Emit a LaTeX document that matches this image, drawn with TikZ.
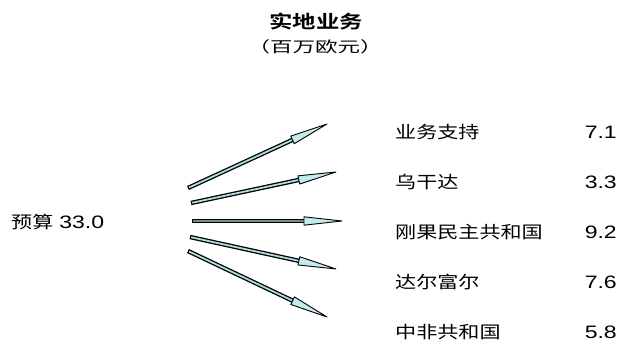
\documentclass[tikz,border=0pt]{standalone}
\usepackage{fontspec}
\setmainfont{Liberation Sans}[FakeStretch=1.28]
\newfontfamily\cjk{Noto Sans CJK SC}[FakeStretch=1.24]
\newfontfamily\cjkwide{Noto Sans CJK SC}[FakeStretch=1.5]
\newfontfamily\cjkbold{Noto Sans CJK SC Bold}[FakeStretch=1.3]
\usetikzlibrary{positioning, calc}
\definecolor{shaftcyan}{RGB}{170,222,224}
\definecolor{shaftgray}{RGB}{120,140,142}
\definecolor{headcyan}{RGB}{196,234,236}

\newcommand{\fieldarrow}[3]{%
  \draw[line width=4.4pt, black] (#1) -- ($(#2)!36pt!(#1)$);
  \draw[line width=1.8pt, #3] ($(#1)!1.2pt!(#2)$) -- ($(#2)!36pt!(#1)$);
  \draw[fill=headcyan, line width=0.9pt, line join=round]
    ($(#2)!38pt!(#1)!4.2pt!90:(#2)$) -- (#2)
    -- ($(#2)!38pt!(#1)!4.2pt!-90:(#2)$) -- cycle;
}

\begin{document}
\begin{tikzpicture}[x=1pt, y=-1pt,
    label/.style={anchor=west, inner sep=0pt, font=\fontsize{17}{17}\cjk},
    value/.style={anchor=east, inner sep=0pt, font=\fontsize{18}{18}\selectfont}]
  \useasboundingbox (0,0) rectangle (618,347);

  \node (title) at (316,22) {\fontsize{18}{18}\cjkbold 实地业务};
  \node (unit) at (315,47) {\fontsize{15}{15}\cjkwide （百万欧元）};

  \node [anchor=west, inner sep=0pt] (budget) at (11,222)
    {\fontsize{17}{17}\cjk 预算\hspace{6pt}\fontsize{18}{18}\selectfont\rmfamily 33.0};

  \node [label] (support) at (395,132) {业务支持};
  \node [label] (uganda)  at (395,182) {乌干达};
  \node [label] (drc)     at (395,232) {刚果民主共和国};
  \node [label] (darfur)  at (395,282) {达尔富尔};
  \node [label] (car)     at (395,332) {中非共和国};

  \node [value] (vsupport) at (617,132) {7.1};
  \node [value] (vuganda)  at (617,182) {3.3};
  \node [value] (vdrc)     at (617,232) {9.2};
  \node [value] (vdarfur)  at (617,282) {7.6};
  \node [value] (vcar)     at (617,332) {5.8};

% ARROWS
  \coordinate (s1) at (188,188);  \coordinate (e1) at (327,124);
  \coordinate (s2) at (191,203);  \coordinate (e2) at (336,172);
  \coordinate (s3) at (192,221);  \coordinate (e3) at (342,221);
  \coordinate (s4) at (190,237);  \coordinate (e4) at (336,269);
  \coordinate (s5) at (188,251);  \coordinate (e5) at (327,317);

  \fieldarrow{s1}{e1}{shaftcyan}
  \fieldarrow{s2}{e2}{shaftcyan}
  \fieldarrow{s3}{e3}{shaftgray}
  \fieldarrow{s4}{e4}{shaftcyan}
  \fieldarrow{s5}{e5}{shaftcyan}

\end{tikzpicture}
\end{document}
